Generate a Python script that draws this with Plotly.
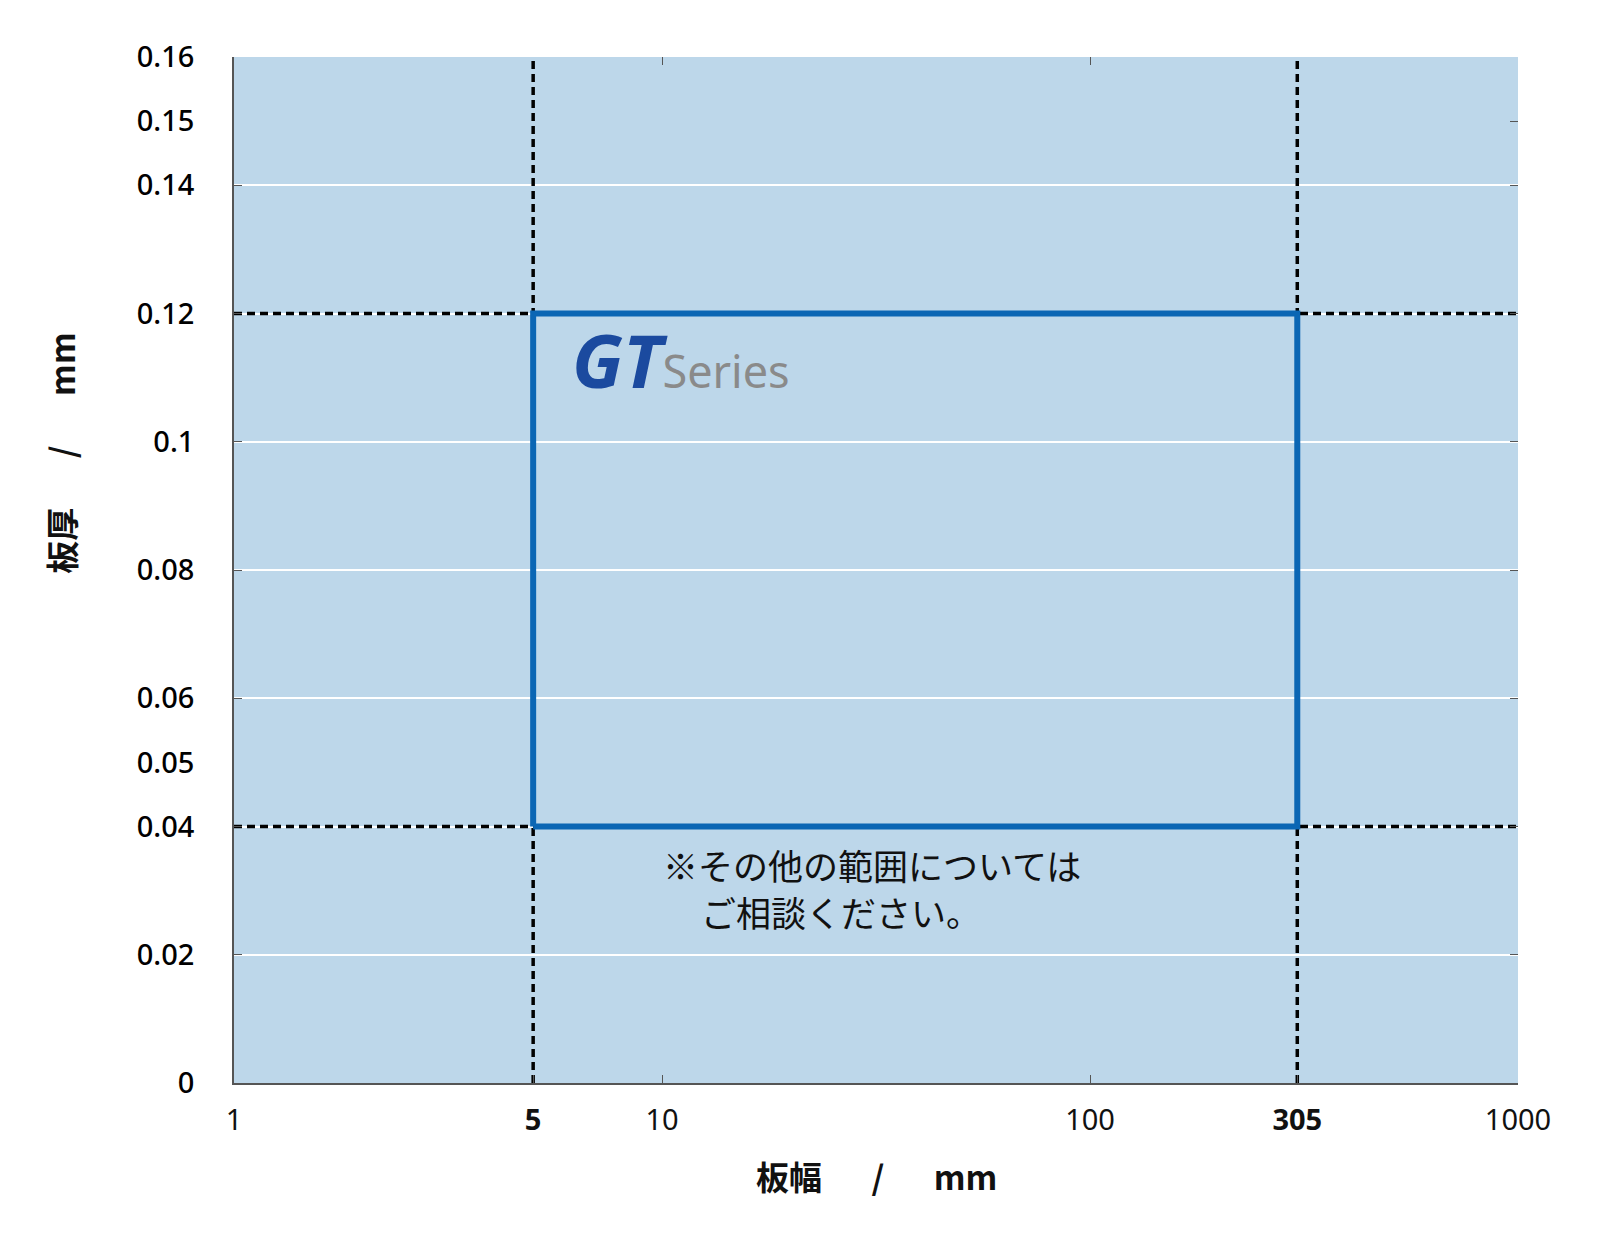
import plotly.graph_objects as go

# range box for the GT series (width in mm, thickness in mm)
width_range = [5, 305]
thickness_range = [0.04, 0.12]

x_ticks = [1, 5, 10, 100, 305, 1000]
x_ticktext = ["1", "<b>5</b>", "10", "100", "<b>305</b>", "1000"]
x_top_ticks = [10, 100, 1000]

y_ticks = [0, 0.02, 0.04, 0.05, 0.06, 0.08, 0.1, 0.12, 0.14, 0.15, 0.16]
y_ticktext = ["0", "0.02", "0.04", "0.05", "0.06", "0.08", "0.1", "0.12", "0.14", "0.15", "0.16"]
y_grid = [0.02, 0.04, 0.06, 0.08, 0.1, 0.12, 0.14, 0.16]
y_right_ticks = [0.02, 0.04, 0.06, 0.08, 0.1, 0.12, 0.14, 0.15, 0.16]

note_lines = ["※その他の範囲については", "ご相談ください。"]

x_span = [1, 1000]
y_span = [0, 0.16]

LATIN = "Noto Sans, Noto Sans CJK JP, sans-serif"
CJK = "Noto Sans CJK JP, Noto Sans, sans-serif"
BG = "#bdd7ea"
AXIS = "#555555"
DASH = dict(color="black", width=3.5, dash="8px,5px")

fig = go.Figure()

# dashed guide lines across the whole plot
for w in width_range:
    fig.add_trace(go.Scatter(x=[w, w], y=y_span, mode="lines", line=DASH,
                             hoverinfo="skip", showlegend=False))
for t in thickness_range:
    fig.add_trace(go.Scatter(x=x_span, y=[t, t], mode="lines", line=DASH,
                             hoverinfo="skip", showlegend=False))

# GT range rectangle
x0, x1 = width_range
y0, y1 = thickness_range
fig.add_trace(go.Scatter(
    x=[x0, x1, x1, x0, x0], y=[y0, y0, y1, y1, y0], mode="lines",
    line=dict(color="#0b66b4", width=6), hoverinfo="skip", showlegend=False,
))

# invisible traces so the overlay axes (extra ticks / grid) get drawn
for xa, ya in [("x2", "y"), ("x", "y2"), ("x", "y3")]:
    fig.add_trace(go.Scatter(x=x_span, y=y_span, xaxis=xa, yaxis=ya, mode="lines",
                             line=dict(width=0), opacity=0, hoverinfo="skip",
                             showlegend=False))

fig.update_layout(
    width=1584, height=1219,
    margin=dict(l=226, r=74, t=49, b=144),
    paper_bgcolor="white", plot_bgcolor=BG,
    font=dict(family=LATIN, color="#111111"),
    xaxis=dict(
        type="log", range=[0, 3], tickvals=x_ticks, ticktext=x_ticktext,
        ticks="inside", ticklen=8, tickcolor=AXIS, tickwidth=1.2,
        showline=True, linecolor=AXIS, linewidth=1.5, showgrid=False,
        zeroline=False, ticklabelstandoff=10,
        tickfont=dict(size=29, family=LATIN, color="#111"),
    ),
    xaxis2=dict(
        type="log", range=[0, 3], overlaying="x", side="top", anchor="y",
        tickvals=x_top_ticks, ticks="inside", ticklen=8, tickcolor=AXIS,
        tickwidth=1.2, showticklabels=False, showline=False, showgrid=False,
        zeroline=False,
    ),
    yaxis=dict(
        range=y_span, tickvals=y_ticks, ticktext=y_ticktext, ticks="",
        showline=True, linecolor=AXIS, linewidth=1.5, showgrid=False,
        zeroline=False, ticklabelstandoff=32,
        tickfont=dict(size=29, family=LATIN, color="#000", weight=500),
    ),
    yaxis2=dict(
        range=y_span, overlaying="y", side="left", anchor="x",
        tickvals=y_grid, ticks="inside", ticklen=8, tickcolor=AXIS,
        tickwidth=1.2, showticklabels=False, showline=False,
        showgrid=True, gridcolor="white", gridwidth=1.5, zeroline=False,
    ),
    yaxis3=dict(
        range=y_span, overlaying="y", side="right", anchor="x",
        tickvals=y_right_ticks, ticks="inside", ticklen=8, tickcolor=AXIS,
        tickwidth=1.2, showticklabels=False, showline=False, showgrid=False,
        zeroline=False,
    ),
)

# axis titles
fig.add_annotation(
    text="<b>板幅\u3000\u2002/\u2002\u3000mm</b>", xref="paper", yref="paper",
    x=0.5, y=-0.091, xanchor="center", yanchor="middle",
    showarrow=False, font=dict(size=33, family=CJK, color="#111"),
)
fig.add_annotation(
    text="<b>板厚\u3000\u2002/\u2002\u3000mm</b>", xref="paper", yref="paper",
    x=-0.135, y=0.614, xanchor="center", yanchor="middle",
    textangle=-90, showarrow=False, font=dict(size=33, family=CJK, color="#111"),
)

# series label
fig.add_annotation(
    text=("<b><i>GT</i></b><span style='font-size:45px;color:#8a8a8a'>"
          "Series</span>"),
    xref="paper", yref="paper", x=0.262, y=0.705, xanchor="left",
    yanchor="middle", showarrow=False,
    font=dict(size=74, family=LATIN, color="#1b4a9f"),
)

# note, two lines, second one indented
for text, nx, ny in zip(note_lines, [0.3326, 0.362], [0.2134, 0.1676]):
    fig.add_annotation(
        text=text, xref="paper", yref="paper", x=nx, y=ny, xanchor="left",
        yanchor="middle", align="left", showarrow=False,
        font=dict(size=35, family=CJK, color="#111"),
    )

fig.write_html("out.html")
